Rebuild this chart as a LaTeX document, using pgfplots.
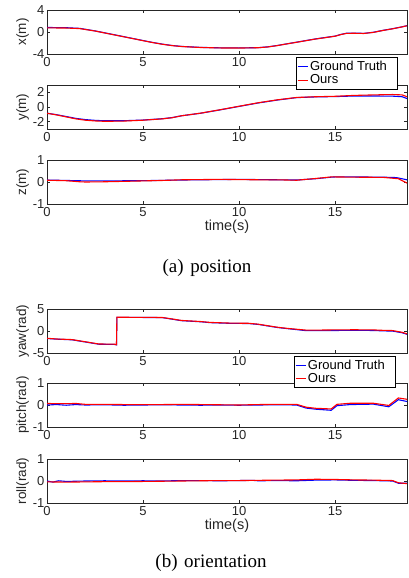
\documentclass[border=0pt]{standalone}
\usepackage{fontspec}
\setmainfont{Liberation Sans}
\newfontfamily\capfont{Liberation Serif}
\usepackage{pgfplots}
\pgfplotsset{compat=1.18}

\definecolor{axgray}{gray}{0.15}
\pgfplotsset{
  mat/.style={
    scale only axis, width=360pt, height=44pt,
    xmin=0, xmax=18.75, xtick={0,5,10,15},
    tick align=inside, major tick length=3pt,
    axis line style={axgray, line width=0.6pt},
    every tick/.style={axgray, line width=0.5pt},
    tick label style={font=\fontsize{13}{14}\selectfont, text=axgray},
    /pgf/number format/assume math mode=true,
    yticklabel style={xshift=1pt},
    ylabel style={font=\fontsize{13.5}{14}\selectfont, text=axgray,
      at={(axis description cs:-0.0675,0.5)}, anchor=center},
    xlabel style={font=\fontsize{14.5}{15}\selectfont, text=axgray},
    clip=true,
  },
  gt/.style={blue, line width=1.1pt},
  ours/.style={red, line width=1.1pt},
  leg/.style={
    legend style={at={#1}, anchor=north west, draw=black,
      fill=white, font=\fontsize{13}{14}\selectfont, inner xsep=1pt,
      inner ysep=1.5pt, row sep=-1pt, cells={anchor=west}},
    legend image code/.code={\draw[##1, line width=0.8pt] (0pt,0pt) -- (10pt,0pt);},
    legend cell align=left},
}

\begin{document}
\begin{tikzpicture}
\useasboundingbox (0,0) rectangle (408pt,-578pt);

% ---------------- position ----------------
% the "15" label is hidden behind the legend, as in the figure
\begin{axis}[mat, at={(47pt,-10pt)}, anchor=north west,
  xticklabels={0,5,10,{}},
  ymin=-4, ymax=4, ytick={-4,0,4}, ylabel={x(m)}]
\addplot[gt] coordinates {
 (0,0.82) (1,0.78) (1.7,0.66) (2.5,0.2) (3.5,-0.5) (4.5,-1.2) (5,-1.55)
 (5.5,-1.9) (6,-2.2) (6.5,-2.45) (7,-2.62) (8,-2.8) (9,-2.88) (10,-2.9)
 (11,-2.85) (11.5,-2.7) (12,-2.45) (12.5,-2.15) (13,-1.85) (13.5,-1.55)
 (14,-1.25) (14.5,-1.0) (15,-0.75) (15.3,-0.45) (15.6,-0.22) (16,-0.2)
 (16.5,-0.25) (17,-0.05) (17.5,0.3) (18,0.6) (18.5,0.95) (18.75,1.15)};
\addplot[ours] coordinates {
 (0,0.75) (1,0.72) (1.7,0.62) (2.5,0.18) (3.5,-0.52) (4.5,-1.22) (5,-1.58)
 (5.5,-1.92) (6,-2.23) (6.5,-2.47) (7,-2.64) (8,-2.82) (9,-2.9) (10,-2.92)
 (11,-2.86) (11.5,-2.72) (12,-2.47) (12.5,-2.16) (13,-1.87) (13.5,-1.57)
 (14,-1.27) (14.5,-1.02) (15,-0.77) (15.3,-0.47) (15.6,-0.25) (16,-0.23)
 (16.5,-0.27) (17,-0.07) (17.5,0.28) (18,0.58) (18.5,0.93) (18.75,1.13)};
\end{axis}

\begin{axis}[mat, at={(47pt,-85pt)}, anchor=north west,
  ymin=-3, ymax=3, ytick={-2,0,2}, ylabel={y(m)}, leg={(0.692,1.63)}]
\addplot[gt] coordinates {
 (0,-0.85) (0.5,-1.05) (1,-1.3) (1.5,-1.55) (2,-1.72) (2.5,-1.82) (3,-1.88)
 (4,-1.87) (5,-1.78) (6,-1.6) (6.5,-1.45) (7,-1.2) (8,-0.85) (9,-0.4)
 (10,0.08) (11,0.55) (12,0.95) (13,1.28) (14,1.38) (15,1.42) (16,1.5)
 (17,1.5) (18,1.48) (18.5,1.4) (18.75,1.15)};
\addlegendentry{\makebox[84pt][l]{Ground Truth}}
\addplot[ours] coordinates {
 (0,-0.85) (0.5,-1.08) (1,-1.35) (1.5,-1.62) (2,-1.8) (2.5,-1.9) (3,-1.95)
 (4,-1.92) (5,-1.8) (6,-1.62) (6.5,-1.47) (7,-1.2) (8,-0.84) (9,-0.38)
 (10,0.1) (11,0.58) (12,0.98) (13,1.3) (14,1.4) (15,1.46) (16,1.58)
 (17,1.65) (18,1.7) (18.5,1.65) (18.75,1.4)};
\addlegendentry{Ours}
\end{axis}

\begin{axis}[mat, at={(47pt,-160pt)}, anchor=north west,
  ymin=-1, ymax=1, ytick={-1,0,1}, ylabel={z(m)}, xlabel={time(s)},
  xlabel style={yshift=4pt}]
\addplot[gt] coordinates {
 (0,0.09) (1,0.07) (2,0.05) (3,0.05) (5,0.06) (7,0.09) (8,0.1) (10,0.12)
 (12,0.1) (13,0.09) (14,0.15) (14.8,0.22) (15,0.23) (16,0.23) (17.5,0.22)
 (18.2,0.2) (18.75,0.1)};
\addplot[ours] coordinates {
 (0,0.08) (1,0.06) (1.7,0.01) (2,0.0) (3,0.01) (4,0.03) (5,0.05) (6,0.07)
 (7,0.1) (8,0.11) (9,0.12) (10,0.11) (11,0.1) (12,0.1) (13,0.08) (14,0.16)
 (14.8,0.23) (15,0.23) (16,0.22) (17.5,0.21) (18.3,0.15) (18.75,-0.05)};
\end{axis}

\node[font=\capfont\fontsize{19}{21}\selectfont, anchor=center] at (207pt,-268pt)
  {(a)\hspace{0.35em}position};

% ---------------- orientation ----------------
\begin{axis}[mat, at={(47pt,-309pt)}, anchor=north west,
  xticklabels={0,5,10,{}},
  ymin=-5, ymax=5, ytick={-5,0,5}, ylabel={yaw(rad)}]
\addplot[gt] coordinates {
 (0,-1.7) (0.5,-1.85) (1.3,-2.0) (2,-2.5) (2.7,-3.0) (3.5,-3.05) (3.62,-3.15)
 (3.64,3.1) (4,3.1) (5,3.08) (6,3.05) (6.5,2.7) (7,2.35) (8,2.1) (8.5,1.9)
 (9.5,1.75) (10.5,1.7) (11,1.5) (12,0.8) (12.5,0.55) (13.5,0.08) (14,0.08)
 (15,0.12) (16,0.15) (17,0.12) (17.5,0.03) (18,-0.02) (18.5,-0.4) (18.75,-0.75)};
\addplot[ours] coordinates {
 (0,-1.65) (0.5,-1.82) (1.3,-1.95) (2,-2.45) (2.7,-2.95) (3.5,-3.0) (3.62,-3.1)
 (3.64,3.12) (4,3.12) (5,3.1) (6,3.07) (6.5,2.75) (7,2.4) (8,2.15) (8.5,1.95)
 (9.5,1.8) (10.5,1.75) (11,1.55) (12,0.85) (12.5,0.6) (13.5,0.2) (14,0.2)
 (15,0.25) (16,0.28) (17,0.25) (17.5,0.15) (18,0.1) (18.5,-0.3) (18.75,-0.65)};
\end{axis}

\begin{axis}[mat, at={(47pt,-383pt)}, anchor=north west,
  ymin=-1, ymax=1, ytick={-1,0,1}, ylabel={pitch(rad)}, leg={(0.686,1.615)}]
\addplot[gt] coordinates {
 (0,0.0) (0.5,0.02) (1,-0.01) (1.5,0.02) (2,0.0) (3,0.01) (4,-0.01) (5,0.0)
 (6,0.01) (7,0.0) (8,-0.01) (9,0.0) (10,-0.01) (11,0.0) (12,0.01) (13,0.0)
 (13.5,-0.14) (14,-0.19) (14.8,-0.24) (15.1,-0.03) (15.8,0.02) (17,0.04)
 (17.8,-0.08) (18.3,0.24) (18.75,0.16)};
\addlegendentry{\makebox[84pt][l]{Ground Truth}}
\addplot[ours] coordinates {
 (0,0.07) (0.5,0.06) (1,0.06) (1.5,0.07) (2,0.03) (3,0.03) (4,0.02) (5,0.02)
 (6,0.02) (7,0.03) (8,0.02) (9,0.01) (10,0.0) (11,0.02) (12,0.03) (13,0.03)
 (13.5,-0.1) (14,-0.15) (14.8,-0.18) (15.1,0.03) (15.8,0.08) (17,0.08)
 (17.8,-0.02) (18.3,0.32) (18.75,0.26)};
\addlegendentry{Ours}
\end{axis}

\begin{axis}[mat, at={(47pt,-459pt)}, anchor=north west,
  ymin=-1, ymax=1, ytick={-1,0,1}, ylabel={roll(rad)}, xlabel={time(s)},
  xlabel style={yshift=4pt}]
\addplot[gt] coordinates {
 (0,0.0) (0.3,-0.05) (0.6,0.01) (1,-0.02) (2,0.0) (3,0.01) (4,0.0) (5,0.01)
 (6,0.0) (7,0.02) (8,0.02) (9,0.01) (10,0.02) (10.7,0.03) (11,0.01) (12,0.02)
 (13,0.01) (14,0.04) (15,0.05) (16,0.03) (17,0.02) (18,0.0) (18.3,-0.1)
 (18.75,-0.1)};
\addplot[ours] coordinates {
 (0,-0.04) (1,-0.05) (2,-0.04) (3,-0.03) (4,-0.03) (5,-0.02) (6,-0.01)
 (7,0.0) (8,0.01) (9,0.02) (10,0.02) (11,0.03) (12,0.04) (13,0.05) (14,0.08)
 (15,0.07) (16,0.05) (17,0.04) (18,0.02) (18.3,-0.08) (18.75,-0.12)};
\end{axis}

\node[font=\capfont\fontsize{19}{21}\selectfont, anchor=center] at (211pt,-563pt)
  {(b)\hspace{0.35em}orientation};
\end{tikzpicture}
\end{document}
